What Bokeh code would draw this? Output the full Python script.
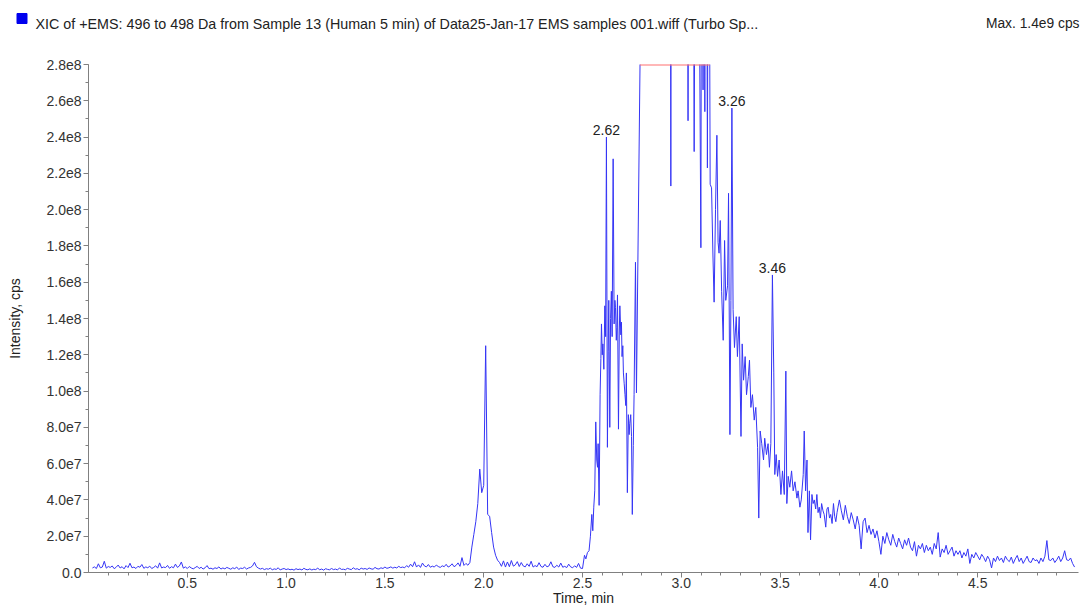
import numpy as np
from bokeh.plotting import figure
from bokeh.models import FixedTicker, Range1d
from bokeh.layouts import column
from bokeh.core.properties import value
from bokeh.embed import file_html
from bokeh.resources import INLINE

# ---------------- data (intensity in units of 1e6 cps) ----------------
# uniform-sampled baseline segment: 0.02 .. 2.49 min, step 0.01
base_start, base_step = 0.02, 0.01
base_intensity = [
    2.5, 3.1, 2.2, 4.8, 2.6, 3.0, 6.2, 2.4, 3.3, 2.8,
    3.6, 2.1, 2.9, 4.1, 2.5, 3.2, 2.0, 3.8, 2.7, 5.1,
    2.6, 3.0, 2.2, 3.4, 2.9, 4.4, 2.3, 3.1, 2.6, 3.5,
    2.2, 2.8, 3.7, 2.4, 5.3, 2.5, 3.0, 2.7, 3.9, 2.3,
    3.2, 2.6, 4.6, 2.8, 3.6, 5.8, 2.4, 3.1, 2.2, 3.3,
    2.5, 2.0, 2.7, 3.4, 2.2, 2.9, 1.9, 2.6, 3.8, 2.1,
    2.4, 1.8, 2.6, 2.2, 3.1, 1.9, 2.5, 2.0, 2.8, 2.3,
    1.8, 2.6, 2.1, 3.0, 1.7, 2.4, 2.2, 2.9, 1.9, 2.5,
    2.8, 3.6, 5.6, 3.2, 2.4, 1.9, 2.3, 1.6, 2.1, 1.8,
    2.4, 1.5, 2.0, 1.7, 2.6, 1.4, 1.9, 2.2, 1.6, 2.0,
    1.5, 1.8, 1.3, 2.1, 1.6, 1.9, 1.4, 2.3, 1.7, 1.5,
    2.0, 1.4, 1.8, 1.6, 2.4, 1.5, 1.9, 1.3, 2.1, 1.7,
    1.5, 2.2, 1.6, 1.9, 1.4, 2.5, 1.7, 1.8, 1.5, 2.3,
    1.9, 1.6, 2.6, 1.8, 2.1, 1.5, 2.4, 1.9, 2.2, 1.7,
    2.5, 2.0, 1.8, 2.8, 2.1, 1.9, 2.6, 2.2, 3.0, 2.3,
    2.6, 3.1, 2.4, 2.9, 2.5, 3.4, 2.7, 3.0, 2.6, 3.8,
    2.9, 4.6, 3.2, 5.9, 3.0, 4.2, 2.8, 5.2, 3.6, 3.1,
    4.4, 2.9, 3.5, 3.0, 4.1, 3.3, 2.8, 3.7, 3.2, 4.5,
    3.0, 3.6, 4.8, 3.2, 3.9, 5.3, 3.4, 8.2, 3.9, 5.0,
    4.0, 5.5, 14.0, 21.0, 28.0, 38.0, 57.0, 44.0, 48.0, 125.0,
    32.0, 31.0, 22.0, 14.0, 9.5, 6.8, 5.5, 3.4, 6.4, 3.0,
    5.8, 3.2, 6.6, 3.5, 4.2, 6.0, 3.3, 5.5, 3.6, 3.1,
    4.8, 3.4, 6.2, 3.0, 3.8, 3.2, 5.4, 3.3, 2.9, 4.5,
    3.1, 3.6, 5.9, 3.2, 2.8, 4.0, 3.0, 5.2, 2.9, 3.4,
    2.7, 4.6, 3.1, 2.6, 3.7, 2.8, 5.0, 2.4,
]

# densely read main elution region 2.50 .. 3.80 min
main_time = [
    2.500, 2.510, 2.517, 2.525, 2.533, 2.540, 2.547, 2.552, 2.557, 2.562,
    2.567, 2.572, 2.576, 2.579, 2.584, 2.589, 2.593, 2.596, 2.600, 2.603,
    2.608, 2.613, 2.617, 2.621, 2.626, 2.630, 2.633, 2.638, 2.642, 2.646,
    2.650, 2.655, 2.660, 2.664, 2.667, 2.671, 2.674, 2.677, 2.682, 2.686,
    2.689, 2.694, 2.697, 2.700, 2.704, 2.707, 2.711, 2.715, 2.719, 2.722,
    2.727, 2.732, 2.736, 2.739, 2.744, 2.748, 2.752, 2.757, 2.761, 2.768,
    2.773, 2.792, 2.800, 2.810, 2.830, 2.850, 2.870, 2.890, 2.910, 2.930,
    2.943, 2.947, 2.951, 2.970, 2.990, 3.010, 3.028, 3.034, 3.040, 3.058,
    3.065, 3.072, 3.088, 3.099, 3.104, 3.110, 3.114, 3.119, 3.124, 3.128,
    3.132, 3.137, 3.141, 3.146, 3.153, 3.160, 3.166, 3.173, 3.180, 3.186,
    3.191, 3.197, 3.204, 3.212, 3.219, 3.225, 3.234, 3.239, 3.246, 3.251,
    3.256, 3.262, 3.269, 3.278, 3.284, 3.293, 3.302, 3.308, 3.315, 3.323,
    3.330, 3.339, 3.345, 3.352, 3.360, 3.369, 3.377, 3.386, 3.392, 3.399,
    3.407, 3.416, 3.422, 3.431, 3.439, 3.446, 3.453, 3.461, 3.468, 3.473,
    3.480, 3.487, 3.495, 3.504, 3.512, 3.521, 3.529, 3.534, 3.541, 3.549,
    3.558, 3.566, 3.575, 3.585, 3.591, 3.600, 3.607, 3.617, 3.622, 3.629,
    3.636, 3.641, 3.648, 3.654, 3.661, 3.667, 3.673, 3.680, 3.686, 3.692,
    3.698, 3.704, 3.710, 3.717, 3.723, 3.731, 3.737, 3.743, 3.750, 3.756,
    3.763, 3.770, 3.776, 3.782, 3.788, 3.793, 3.800,
]
main_intensity = [
    2.2, 9.5, 7.5, 11, 12, 20, 32, 23, 36, 45,
    83, 62, 58, 71, 37, 98, 118, 137, 120, 126,
    112, 147, 130, 240, 69, 122, 150, 80, 140, 155,
    130, 228, 137, 150, 146, 128, 135, 153, 79, 132,
    147, 131, 138, 119, 125, 110, 104, 98, 92, 110,
    44, 87, 76, 82, 87, 75, 32, 70, 98, 171,
    99, 290, 700, 900, 1200, 1400, 1300, 1100, 1000, 800,
    600, 213, 650, 900, 1000, 850, 600, 249, 520, 450,
    232, 420, 380, 179, 500, 266, 450, 254, 500, 400,
    223, 420, 380, 214, 212, 175, 149, 200, 241, 182,
    176, 194, 155, 128, 183, 150, 158, 209, 76, 150,
    256, 145, 124, 141, 119, 141, 75, 126, 106, 119,
    98, 108, 117, 91, 98, 84, 91, 69, 30, 78,
    71, 62, 74, 65, 71, 58, 71, 164, 110, 54,
    65, 53, 62, 43, 56, 43, 111, 38, 53, 47,
    56, 45, 50, 41, 45, 36, 40, 54, 78, 45,
    62, 22, 45, 18, 43, 38, 40, 35, 43, 33,
    36, 30, 38, 34, 32, 25, 35, 36, 30, 32,
    27, 38, 31, 28, 33, 36, 40,
]

# uniform-sampled tail segment: 3.81 .. 4.99 min, step 0.01
tail_start, tail_step = 3.81, 0.01
tail_intensity = [
    34, 29, 37, 31, 27, 33, 29, 24, 31, 26,
    13, 28, 30, 22, 26, 21, 24, 19, 23, 17,
    10, 20, 16, 22, 18, 15, 21, 17, 14, 19,
    16, 13, 18, 15, 19, 14, 12, 17, 9, 15,
    13, 16, 11, 15, 12, 14, 10, 16, 13, 22,
    8.5, 13, 11, 15, 10, 12, 14, 9, 12, 10,
    12, 8, 11, 9, 13, 5, 10, 8, 11, 9,
    7, 10, 8.4, 6, 9, 7, 2.5, 8, 6, 9,
    6.6, 8, 5.5, 9, 7, 6, 8.5, 5, 7.5, 9.4,
    6, 8, 5, 7, 9, 6, 5.5, 8, 6.5, 7,
    5, 8, 6, 9, 17.6, 7, 6.6, 8, 5.5, 7,
    9, 6, 8, 12, 7, 6.6, 8, 5, 3,
]

peak_labels = ["2.62", "3.26", "3.46"]
x_ticks = [0.5, 1.0, 1.5, 2.0, 2.5, 3.0, 3.5, 4.0, 4.5]
x_tick_labels = ["0.5", "1.0", "1.5", "2.0", "2.5", "3.0", "3.5", "4.0", "4.5"]
y_ticks = [0, 20e6, 40e6, 60e6, 80e6, 100e6, 120e6, 140e6, 160e6, 180e6,
           200e6, 220e6, 240e6, 260e6, 280e6]
y_tick_labels = ["0.0", "2.0e7", "4.0e7", "6.0e7", "8.0e7", "1.0e8", "1.2e8",
                 "1.4e8", "1.6e8", "1.8e8", "2.0e8", "2.2e8", "2.4e8", "2.6e8",
                 "2.8e8"]
title_text = ("XIC of +EMS: 496 to 498 Da from Sample 13 (Human 5 min) of "
              "Data25-Jan-17 EMS samples 001.wiff (Turbo Sp...")
max_text = "Max. 1.4e9 cps"

# ---------------- assemble ----------------
t_base = base_start + base_step * np.arange(len(base_intensity))
t_tail = tail_start + tail_step * np.arange(len(tail_intensity))
t = np.concatenate([t_base, np.array(main_time), t_tail])
y = np.concatenate([np.array(base_intensity), np.array(main_intensity),
                    np.array(tail_intensity)]) * 1e6

Y_MAX = 2.8e8
X_MIN, X_MAX = 0.0, 5.01
W, H_HEAD, H_MAIN = 1086, 40, 568

FONT = "Liberation Sans"
BLUE = "#3535f5"
FS = "14px"

# ---------------- header strip (pixel coordinates, y downward) ----------------
head = figure(width=W, height=H_HEAD, x_range=Range1d(0, W), y_range=Range1d(H_HEAD, 0),
              output_backend="svg", toolbar_location=None,
              x_axis_type=None, y_axis_type=None,
              min_border=0, min_border_left=0, min_border_right=0,
              min_border_top=0, min_border_bottom=0)
head.frame_align = False
head.outline_line_color = None
head.xgrid.visible = False
head.ygrid.visible = False
head.scatter([21.5], [18], marker="square", size=10, fill_color="#0000ee",
             line_color="#0000ee")
head.text([35], [23], text=[title_text], text_font=value(FONT), text_font_size="14.3px",
          text_color="#222222", text_baseline="alphabetic", text_align="left")
head.text([1079], [23], text=[max_text], text_font=value(FONT), text_font_size="13.8px",
          text_color="#222222", text_baseline="alphabetic", text_align="right")

# ---------------- main chromatogram ----------------
p = figure(width=W, height=H_MAIN, x_range=(X_MIN, X_MAX), y_range=(0, Y_MAX),
           output_backend="svg", toolbar_location=None,
           min_border_left=88, min_border_right=8, min_border_top=64 - H_HEAD,
           min_border_bottom=36)
p.frame_align = False
p.outline_line_color = None
p.xgrid.visible = False
p.ygrid.visible = False
p.background_fill_color = "white"
p.border_fill_color = "white"

p.line(t, y, line_color=BLUE, line_width=1)

# clipping marker: red line along the top where the trace exceeds the y range
idx = np.where(y > Y_MAX)[0]
if len(idx):
    i0, i1 = idx[0], idx[-1]
    ts = t[i0 - 1] + (Y_MAX - y[i0 - 1]) / (y[i0] - y[i0 - 1]) * (t[i0] - t[i0 - 1])
    te = t[i1] + (y[i1] - Y_MAX) / (y[i1] - y[i1 + 1]) * (t[i1 + 1] - t[i1])
    p.line([ts, te], [Y_MAX, Y_MAX], line_color="#ff7070", line_width=2)

# peak labels
px, py = [], []
for lab in peak_labels:
    tv = float(lab)
    near = np.where(np.abs(t - tv) < 0.006)[0]
    k = near[np.argmax(y[near])]
    px.append(t[k]); py.append(y[k])
p.text(x=px, y=py, text=peak_labels, text_align="center", text_baseline="bottom",
       y_offset=-2, text_font=value(FONT), text_font_size=FS, text_color="#222222")

# axes
for ax in (p.xaxis[0], p.yaxis[0]):
    ax.axis_line_color = "#808080"
    ax.major_tick_line_color = "#808080"
    ax.minor_tick_line_color = "#808080"
    ax.major_tick_in = 0
    ax.minor_tick_in = 0
    ax.major_tick_out = 5
    ax.minor_tick_out = 3
    ax.major_label_text_font = FONT
    ax.major_label_text_font_size = FS
    ax.major_label_text_color = "#333333"
    ax.axis_label_text_font = FONT
    ax.axis_label_text_font_size = FS
    ax.axis_label_text_font_style = "normal"
    ax.axis_label_text_color = "#222222"

p.xaxis.ticker = FixedTicker(ticks=x_ticks,
                             minor_ticks=[round(0.1 * i, 1) for i in range(1, 50)])
p.xaxis.major_label_overrides = {k: v for k, v in zip(x_ticks, x_tick_labels)}
p.xaxis.major_label_standoff = 0
p.xaxis.axis_label = "Time, min"
p.xaxis.axis_label_standoff = -1

p.yaxis.ticker = FixedTicker(ticks=y_ticks,
                             minor_ticks=[i * 1e7 for i in range(0, 29)])
p.yaxis.major_label_overrides = {int(k): v for k, v in zip(y_ticks, y_tick_labels)}
p.yaxis.major_label_standoff = 2
p.yaxis.axis_label = "Intensity, cps"
p.yaxis.axis_label_standoff = 20

layout = column(head, p, spacing=0)
open("out.html", "w").write(file_html(layout, INLINE))
